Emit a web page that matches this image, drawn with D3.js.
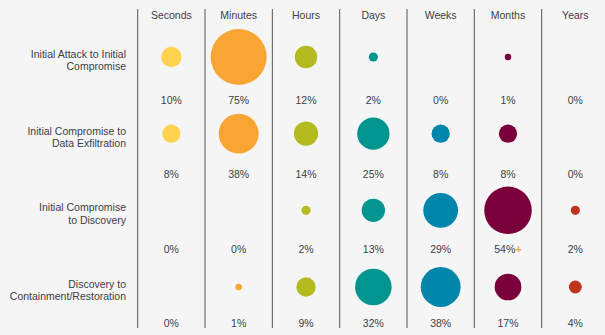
<!DOCTYPE html>
<html><head><meta charset="utf-8">
<script src="https://cdn.jsdelivr.net/npm/d3@7"></script>
<style>
html,body{margin:0;padding:0;background:#f5f5f5;}
svg{display:block;}
text{font-family:"Liberation Sans",Arial,sans-serif;fill:#3d3d45;font-size:10.5px;}
</style></head><body>
<svg id="c" width="605" height="335"></svg>
<script>
const columns = ["Seconds","Minutes","Hours","Days","Weeks","Months","Years"];
const rowLabels = [
  ["Initial Attack to Initial","Compromise"],
  ["Initial Compromise to","Data Exfiltration"],
  ["Initial Compromise","to Discovery"],
  ["Discovery to","Containment/Restoration"]
];
const row1 = [10,75,12,2,0,1,0];
const row2 = [8,38,14,25,8,8,0];
const row3 = [0,0,2,13,29,54,2];
const row4 = [0,1,9,32,38,17,4];
const values = [row1,row2,row3,row4];
const plusMark = {row:2,col:5};
const colors = ["#ffd24f","#f9a533","#b3bb1f","#00958e","#0086ab","#7a003c","#c0341d"];

const svg = d3.select("#c");
const x = d3.scaleBand().domain(columns).range([137.7,609]).paddingInner(0).paddingOuter(0);
const yC = d3.scalePoint().domain(d3.range(4)).range([57,287]);
const yL = d3.scalePoint().domain(d3.range(4)).range([100,323]);
const r = d3.scaleSqrt().domain([0,75]).range([0,28]);

// separators
svg.selectAll("line.sep").data(columns).join("line")
  .attr("x1",d=>x(d)).attr("x2",d=>x(d)).attr("y1",9).attr("y2",328)
  .attr("stroke","#555").attr("stroke-width",1);

// headers
svg.selectAll("text.hdr").data(columns).join("text")
  .attr("x",d=>x(d)+x.bandwidth()/2).attr("y",19).attr("text-anchor","middle").text(d=>d);

// row labels
rowLabels.forEach((lines,i)=>{
  const t = svg.append("text").attr("text-anchor","end").attr("x",126).attr("y",yC(i)+1);
  lines.forEach((l,j)=>t.append("tspan").attr("x",126).attr("dy",j?12.3:0).text(l));
});

values.forEach((row,i)=>{
  const g = svg.append("g");
  g.selectAll("circle").data(row.map((v,j)=>({v,j}))).join("circle")
    .attr("cx",d=>x(columns[d.j])+x.bandwidth()/2).attr("cy",yC(i))
    .attr("r",d=>r(d.v)).attr("fill",d=>colors[d.j]);
  const t = g.selectAll("text").data(row.map((v,j)=>({v,j}))).join("text")
    .attr("x",d=>x(columns[d.j])+x.bandwidth()/2).attr("y",yL(i)+4).attr("text-anchor","middle")
    .text(d=>d.v+"%");
  t.filter(d=>i===plusMark.row&&d.j===plusMark.col).append("tspan")
    .style("fill","#f9a533").attr("font-weight","bold").attr("font-size","11px").text("+");
});
</script></body></html>
